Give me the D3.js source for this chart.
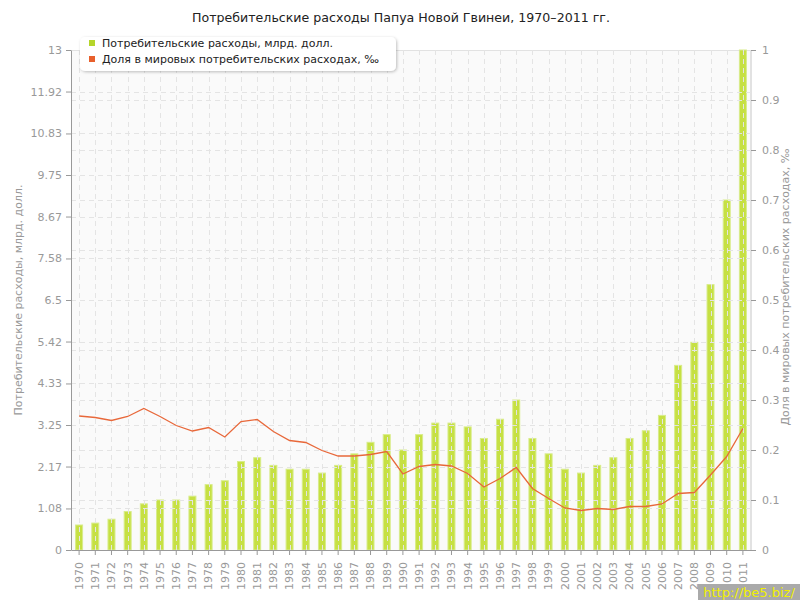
<!DOCTYPE html>
<html>
<head>
<meta charset="utf-8">
<script src="https://cdn.jsdelivr.net/npm/d3@7"></script>
<style>
  body { margin: 0; background: #fff; }
  svg { display: block; font-family: "DejaVu Sans", Verdana, sans-serif; }
</style>
</head>
<body>
<svg id="chart" width="800" height="600"></svg>
<script>
const years = ["1970","1971","1972","1973","1974","1975","1976","1977","1978","1979",
  "1980","1981","1982","1983","1984","1985","1986","1987","1988","1989",
  "1990","1991","1992","1993","1994","1995","1996","1997","1998","1999",
  "2000","2001","2002","2003","2004","2005","2006","2007","2008","2009","2010","2011"];
const spending = [0.65,0.7,0.8,1.0,1.2,1.3,1.3,1.4,1.7,1.8,
  2.3,2.4,2.2,2.1,2.1,2.0,2.2,2.5,2.8,3.0,
  2.6,3.0,3.3,3.3,3.2,2.9,3.4,3.9,2.9,2.5,
  2.1,2.0,2.2,2.4,2.9,3.1,3.5,4.8,5.4,6.9,9.1,13.0];
const share = [0.268,0.265,0.259,0.267,0.283,0.267,0.249,0.238,0.245,0.226,
  0.257,0.261,0.237,0.219,0.215,0.199,0.188,0.188,0.191,0.197,
  0.152,0.167,0.171,0.168,0.153,0.126,0.143,0.165,0.123,0.103,
  0.084,0.079,0.083,0.081,0.087,0.087,0.092,0.113,0.115,0.150,0.187,0.243];
const leftTicks = [0,1.08,2.17,3.25,4.33,5.42,6.5,7.58,8.67,9.75,10.83,11.92,13];
const leftTickLabels = ["0","1.08","2.17","3.25","4.33","5.42","6.5","7.58","8.67","9.75","10.83","11.92","13"];
const rightTicks = [0,0.1,0.2,0.3,0.4,0.5,0.6,0.7,0.8,0.9,1];
const title = "Потребительские расходы Папуа Новой Гвинеи, 1970–2011 гг.";
const seriesNames = ["Потребительские расходы, млрд. долл.", "Доля в мировых потребительских расходах, ‰"];
const leftTitle = "Потребительские расходы, млрд. долл.";
const rightTitle = "Доля в мировых потребительских расходах, ‰";

const svg = d3.select("#chart");
const L = 71, R = 751, T = 50, B = 550;
const x = d3.scaleBand().domain(years).range([L, R]).padding(0);
const yL = d3.scaleLinear().domain([0, 13]).range([B, T]);
const yR = d3.scaleLinear().domain([0, 1]).range([B, T]);
const cx = d => x(d) + x.bandwidth() / 2;

// title
svg.append("text").attr("x", 401).attr("y", 22).attr("text-anchor", "middle")
  .attr("font-size", 12.6).attr("fill", "#222").text(title);

// plot background
svg.append("rect").attr("x", L).attr("y", T).attr("width", R - L).attr("height", B - T)
  .attr("fill", "#fafafa");
svg.append("line").attr("x1", L).attr("x2", R).attr("y1", T + 0.5).attr("y2", T + 0.5)
  .attr("stroke", "#e2e2e2");
svg.append("line").attr("x1", R - 0.5).attr("x2", R - 0.5).attr("y1", T).attr("y2", B)
  .attr("stroke", "#e2e2e2");

// bars
const barW = 7;
svg.append("g").selectAll("rect").data(years).join("rect")
  .attr("x", (d) => cx(d) - barW / 2)
  .attr("y", (d, i) => yL(spending[i]))
  .attr("width", barW)
  .attr("height", (d, i) => B - yL(spending[i]))
  .attr("fill", "#c6e043")
  .attr("stroke", "#d8ec8a").attr("stroke-width", 1);

// grid (above bars)
const grid = svg.append("g").attr("stroke", "#e4e4e4").attr("stroke-dasharray", "5,4").attr("stroke-width", 1);
grid.selectAll("line.v").data(years).join("line").attr("class", "v")
  .attr("x1", d => Math.round(cx(d)) + 0.5).attr("x2", d => Math.round(cx(d)) + 0.5)
  .attr("y1", T).attr("y2", B);
grid.selectAll("line.hl").data(leftTicks.slice(1, -1)).join("line").attr("class", "hl")
  .attr("x1", L).attr("x2", R).attr("y1", d => Math.round(yL(d)) + 0.5).attr("y2", d => Math.round(yL(d)) + 0.5);
grid.selectAll("line.hr").data(rightTicks.slice(1, -1)).join("line").attr("class", "hr")
  .attr("x1", L).attr("x2", R).attr("y1", d => Math.round(yR(d)) + 0.5).attr("y2", d => Math.round(yR(d)) + 0.5);

// line
const line = d3.line().x((d, i) => cx(years[i])).y(d => yR(d));
svg.append("path").datum(share).attr("d", line).attr("fill", "none")
  .attr("stroke", "#e8683a").attr("stroke-width", 1.3);

// axes
function styleAxis(g) {
  g.selectAll(".domain").attr("stroke", "#999");
  g.selectAll(".tick line").attr("stroke", "#999");
  g.selectAll(".tick text").attr("fill", "#999").attr("font-size", 11)
    .attr("font-family", "DejaVu Sans, Verdana, sans-serif");
}
const axL = svg.append("g").attr("transform", `translate(${L},0)`)
  .call(d3.axisLeft(yL).tickValues(leftTicks).tickFormat((d, i) => leftTickLabels[i]).tickSize(5).tickPadding(4).tickSizeOuter(0));
styleAxis(axL);
const axR = svg.append("g").attr("transform", `translate(${R},0)`)
  .call(d3.axisRight(yR).tickValues(rightTicks).tickFormat(d3.format("")).tickSize(5).tickPadding(6).tickSizeOuter(0));
styleAxis(axR);
axR.select(".domain").attr("stroke", "#e2e2e2");
const axB = svg.append("g").attr("transform", `translate(0,${B})`)
  .call(d3.axisBottom(x).tickSize(5).tickSizeOuter(0));
styleAxis(axB);
axB.selectAll(".tick text")
  .attr("transform", "rotate(-90)")
  .attr("text-anchor", "end")
  .attr("x", -12).attr("y", 0).attr("dy", "0.35em");

// axis titles
svg.append("text").attr("transform", "translate(22,300) rotate(-90)").attr("text-anchor", "middle")
  .attr("font-size", 11).attr("fill", "#999").text(leftTitle);
svg.append("text").attr("transform", "translate(789,287) rotate(-90)").attr("text-anchor", "middle")
  .attr("font-size", 11).attr("fill", "#999").text(rightTitle);

// legend
const defs = svg.append("defs");
const f = defs.append("filter").attr("id", "sh").attr("x", "-10%").attr("y", "-30%").attr("width", "120%").attr("height", "170%");
f.append("feDropShadow").attr("dx", 1).attr("dy", 1).attr("stdDeviation", 1.5).attr("flood-color", "#000").attr("flood-opacity", 0.25);
svg.append("rect").attr("x", 80).attr("y", 37).attr("width", 316).attr("height", 34).attr("rx", 5)
  .attr("fill", "#fff").attr("filter", "url(#sh)");
const legColors = ["#b5d52a", "#e8602c"];
const leg = svg.append("g").selectAll("g").data(seriesNames).join("g")
  .attr("transform", (d, i) => `translate(89,${43 + i * 16})`);
leg.append("rect").attr("width", 6).attr("height", 6).attr("y", -3).attr("fill", (d, i) => legColors[i]);
leg.append("text").attr("x", 13).attr("dy", "0.35em").attr("font-size", 11).attr("fill", "#222").text(d => d);

// watermark
svg.append("rect").attr("x", 698).attr("y", 584).attr("width", 102).attr("height", 16).attr("fill", "#aaa");
svg.append("text").attr("x", 749).attr("y", 597).attr("text-anchor", "middle").attr("font-size", 13)
  .attr("fill", "#f0f000").text("http://be5.biz/");
</script>
</body>
</html>
